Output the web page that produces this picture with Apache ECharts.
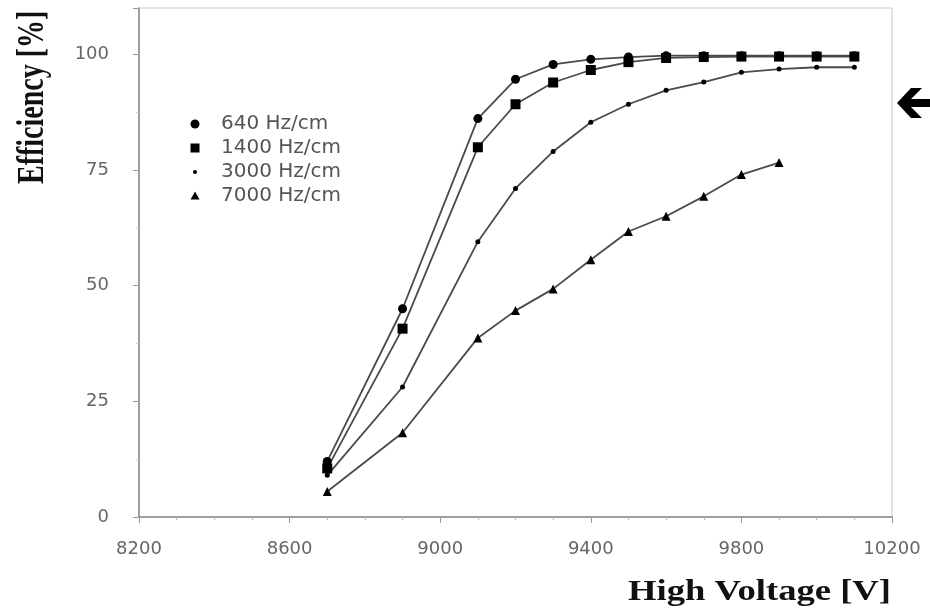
<!DOCTYPE html>
<html>
<head>
<meta charset="utf-8">
<script src="https://cdn.jsdelivr.net/npm/echarts@6/dist/echarts.min.js"></script>
<style>html,body{margin:0;padding:0;background:#fff}#c{width:930px;height:611px}</style>
</head>
<body>
<div id="c"></div>
<script>
const voltages = [8700, 8900, 9100, 9200, 9300, 9400, 9500, 9600, 9700, 9800, 9900, 10000, 10100];
const seriesNames = ['640 Hz/cm', '1400 Hz/cm', '3000 Hz/cm', '7000 Hz/cm'];
const eff640 = [12, 45, 86.1, 94.6, 97.8, 98.9, 99.4, 99.7, 99.7, 99.7, 99.7, 99.7, 99.7];
const eff1400 = [10.5, 40.7, 79.9, 89.2, 93.9, 96.6, 98.3, 99.2, 99.4, 99.5, 99.5, 99.5, 99.5];
const eff3000 = [9, 28.1, 59.5, 71, 79, 85.3, 89.2, 92.2, 94.0, 96.1, 96.8, 97.2, 97.2];
const eff7000 = [5.5, 18.2, 38.7, 44.6, 49.3, 55.6, 61.7, 65.0, 69.3, 74.0, 76.6];
const xTicks = [8200, 8600, 9000, 9400, 9800, 10200];
const yTicks = [0, 25, 50, 75, 100];

const allData = [eff640, eff1400, eff3000, eff7000];
const symbols = ['circle', 'rect', 'circle', 'triangle'];
const sizes = [9, 10, 5, 9];
const legendIcons = [
  'path://M0,0M36,20M10.5,10a4.5,4.5 0 1,0 9,0a4.5,4.5 0 1,0 -9,0',
  'path://M0,0M36,20M10.5,5.5h9v9h-9z',
  'path://M0,0M36,20M13,10a2,2 0 1,0 4,0a2,2 0 1,0 -4,0',
  'path://M0,0M36,20M15,5.5L19.5,13.5L10.5,13.5z'
];

const sansFont = '"DejaVu Sans", Verdana, sans-serif';
const chart = echarts.init(document.getElementById('c'));
chart.setOption({
  animation: false,
  backgroundColor: '#fff',
  grid: { left: 139, right: 38, top: 8, bottom: 94, show: true, borderColor: '#c8c8c8', borderWidth: 1 },
  legend: {
    orient: 'vertical', left: 175, top: 109, itemGap: 4, itemWidth: 36, itemHeight: 20,
    data: seriesNames.map((n, i) => ({ name: n, icon: legendIcons[i], itemStyle: { color: '#000' } })),
    textStyle: { fontFamily: sansFont, fontSize: 20, color: '#555' },
    itemStyle: { color: '#000' }, lineStyle: { width: 0 }
  },
  xAxis: {
    type: 'value', min: xTicks[0], max: xTicks[xTicks.length - 1], interval: 400,
    axisLine: { show: true, lineStyle: { color: '#888', width: 1.5 } },
    axisTick: { show: true, length: 6, lineStyle: { color: '#999' } },
    minorTick: { show: true, splitNumber: 4, length: 3, lineStyle: { color: '#bbb' } },
    splitLine: { show: false },
    axisLabel: { margin: 23, fontFamily: sansFont, fontSize: 18, color: '#666', formatter: v => String(v) }
  },
  yAxis: {
    type: 'value', min: 0, max: 110, interval: 25,
    axisLine: { show: true, lineStyle: { color: '#888', width: 1.5 } },
    axisTick: { show: true, length: 6, lineStyle: { color: '#999' } },
    minorTick: { show: true, splitNumber: 2, length: 3, lineStyle: { color: '#ccc' } },
    splitLine: { show: false },
    axisLabel: {
      margin: 30, fontFamily: sansFont, fontSize: 18, color: '#666',
      formatter: v => (yTicks.indexOf(v) >= 0 ? String(v) : '')
    }
  },
  series: allData.map((d, i) => ({
    name: seriesNames[i], type: 'line',
    data: d.map((v, j) => [voltages[j], v]),
    symbol: symbols[i], symbolSize: sizes[i], showAllSymbol: true,
    itemStyle: { color: '#000' },
    lineStyle: { color: '#4a4a4a', width: 1.8 }
  })),
  graphic: [
    { type: 'text', x: 14, y: 184, rotation: Math.PI / 2, scaleY: 1.35,
      style: { text: 'Efficiency [%]', font: 'bold 28px "Liberation Serif", "Times New Roman", serif', fill: '#111', textBaseline: 'top' } },
    { type: 'text', x: 628, y: 577, scaleX: 1.22,
      style: { text: 'High Voltage [V]', font: 'bold 30px "Liberation Serif", "Times New Roman", serif', fill: '#111', textBaseline: 'top' } },
    { type: 'polygon', shape: { points: [[897,103],[911,88],[922,88],[911,99],[930,99],[930,107],[911,107],[922,118],[911,118]] },
      style: { fill: '#000' } }
  ]
});
</script>
</body>
</html>
